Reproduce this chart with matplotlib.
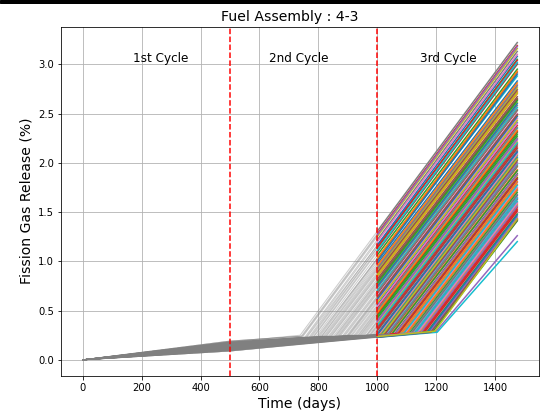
import matplotlib.pyplot as plt
import numpy as np
from matplotlib.patches import Rectangle

# day at which rapid release starts, per rod
onset_day = [812, 1046, 948, 1127, 761, 983, 1092, 874, 1158, 795,
             1011, 903, 1069, 742, 1175, 856, 967, 1103, 828, 1034,
             921, 1141, 776, 996, 1082, 889, 1163, 754, 1021, 937,
             1116, 845, 1057, 978, 1184, 803, 911, 1134, 867, 1003,
             768, 1087, 956, 1150, 821, 1040, 895, 1120, 748, 990,
             1075, 838, 1168, 929, 1028, 784, 1097, 962, 1145, 881,
             1015, 817, 1109, 944, 1179, 859, 1052, 738, 972, 1131,
             906, 1063, 790, 1155, 1200, 851, 1123, 934, 1008, 1203,
             808, 941, 1049, 1160, 745, 898, 1005, 1113, 842, 975,
             870, 1079, 1190, 772, 964, 1025, 1138, 825, 915, 1090,
             999, 1100, 863, 987, 1060, 1182, 758, 885, 1018, 1125,
             1171, 799, 952, 1072, 1148, 834, 925, 1037, 1195, 781]

# FGR (%) at onset
fgr_onset = [0.24, 0.26, 0.25, 0.27, 0.23, 0.25, 0.26, 0.24, 0.28, 0.23,
             0.26, 0.25, 0.27, 0.24, 0.28, 0.24, 0.25, 0.27, 0.24, 0.26,
             0.25, 0.28, 0.23, 0.25, 0.27, 0.24, 0.28, 0.23, 0.26, 0.25,
             0.27, 0.24, 0.26, 0.25, 0.29, 0.23, 0.25, 0.27, 0.24, 0.26,
             0.23, 0.27, 0.25, 0.28, 0.24, 0.26, 0.24, 0.27, 0.24, 0.25,
             0.27, 0.24, 0.28, 0.25, 0.26, 0.23, 0.27, 0.25, 0.28, 0.24,
             0.26, 0.24, 0.27, 0.25, 0.28, 0.24, 0.26, 0.25, 0.25, 0.27,
             0.25, 0.26, 0.23, 0.28, 0.29, 0.24, 0.27, 0.25, 0.26, 0.28,
             0.23, 0.25, 0.26, 0.28, 0.24, 0.24, 0.26, 0.27, 0.24, 0.25,
             0.24, 0.27, 0.29, 0.23, 0.25, 0.26, 0.28, 0.24, 0.25, 0.27,
             0.25, 0.27, 0.24, 0.25, 0.26, 0.28, 0.23, 0.24, 0.26, 0.27,
             0.28, 0.23, 0.25, 0.27, 0.28, 0.24, 0.25, 0.26, 0.29, 0.23]

# FGR (%) at end of 1st cycle
fgr_500 = [0.17, 0.12, 0.14, 0.11, 0.18, 0.13, 0.10, 0.15, 0.12, 0.16,
           0.13, 0.15, 0.11, 0.19, 0.10, 0.16, 0.13, 0.12, 0.17, 0.11,
           0.14, 0.09, 0.18, 0.14, 0.12, 0.15, 0.11, 0.17, 0.12, 0.16,
           0.10, 0.16, 0.13, 0.12, 0.09, 0.18, 0.14, 0.11, 0.15, 0.13,
           0.17, 0.11, 0.14, 0.10, 0.16, 0.12, 0.15, 0.12, 0.19, 0.13,
           0.12, 0.17, 0.10, 0.14, 0.13, 0.17, 0.11, 0.15, 0.11, 0.16,
           0.12, 0.18, 0.10, 0.13, 0.11, 0.15, 0.12, 0.18, 0.14, 0.12,
           0.14, 0.11, 0.17, 0.10, 0.09, 0.16, 0.11, 0.15, 0.13, 0.10,
           0.18, 0.15, 0.12, 0.10, 0.19, 0.15, 0.13, 0.11, 0.16, 0.14,
           0.16, 0.12, 0.10, 0.18, 0.14, 0.12, 0.11, 0.16, 0.15, 0.12,
           0.14, 0.11, 0.16, 0.13, 0.11, 0.09, 0.18, 0.15, 0.13, 0.10,
           0.09, 0.17, 0.14, 0.11, 0.10, 0.17, 0.15, 0.12, 0.10, 0.17]

# FGR (%) at end of 3rd cycle
fgr_end = [2.83, 1.93, 2.31, 1.63, 3.01, 2.17, 1.75, 2.58, 1.52, 2.88,
           2.07, 2.48, 1.85, 3.19, 1.45, 2.65, 2.23, 1.72, 2.76, 1.98,
           2.41, 1.58, 3.05, 2.12, 1.80, 2.53, 1.50, 3.13, 2.03, 2.35,
           1.67, 2.70, 1.89, 2.19, 1.42, 2.92, 2.45, 1.60, 2.61, 2.10,
           3.08, 1.78, 2.27, 1.55, 2.79, 1.96, 2.50, 1.65, 3.16, 2.14,
           1.83, 2.72, 1.48, 2.38, 2.00, 3.00, 1.74, 2.25, 1.57, 2.56,
           2.05, 2.81, 1.70, 2.32, 1.43, 2.64, 1.91, 3.22, 2.21, 1.61,
           2.47, 1.87, 2.95, 1.53, 1.26, 2.67, 1.64, 2.36, 2.08, 1.20,
           2.90, 2.33, 1.92, 1.51, 3.18, 2.49, 2.09, 1.68, 2.71, 2.20,
           2.60, 1.81, 1.41, 3.04, 2.24, 2.02, 1.59, 2.78, 2.43, 1.77,
           2.11, 1.73, 2.63, 2.15, 1.88, 1.42, 3.10, 2.54, 2.04, 1.64,
           1.47, 2.93, 2.29, 1.84, 1.56, 2.74, 2.40, 1.97, 1.43, 3.02]

end_day = 1475
cycle_ends = [500, 1000]
cycle_labels = ["1st Cycle", "2nd Cycle", "3rd Cycle"]
label_x = [172, 632, 1145]

fig, ax = plt.subplots(figsize=(540 / 72, 419 / 72), dpi=72)
fig.subplots_adjust(left=61 / 540, right=539 / 540,
                    bottom=1 - 375.7 / 419, top=1 - 26.7 / 419)
fig.patches.append(Rectangle((0, 1 - 3 / 419), 1, 3 / 419,
                             transform=fig.transFigure, color="black"))

# 1st + 2nd cycle in grey
for i in range(len(onset_day)):
    t = np.array([0, 500, onset_day[i], end_day], dtype=float)
    y = np.array([0, fgr_500[i], fgr_onset[i], fgr_end[i]])
    y_split = np.interp(1000, t, y)
    early = t < 1000
    ax.plot(np.append(t[early], 1000), np.append(y[early], y_split),
            color="grey", alpha=0.4, lw=1)

# 3rd cycle in colour
for i in range(len(onset_day)):
    t = np.array([0, 500, onset_day[i], end_day], dtype=float)
    y = np.array([0, fgr_500[i], fgr_onset[i], fgr_end[i]])
    y_split = np.interp(1000, t, y)
    late = t > 1000
    ax.plot(np.insert(t[late], 0, 1000), np.insert(y[late], 0, y_split), lw=1.5)

for d in cycle_ends:
    ax.axvline(d, color="red", ls="--", lw=1.5)

for x, lab in zip(label_x, cycle_labels):
    ax.text(x, 3.02, lab, fontsize=12)

ax.grid(True)
ax.set_xlabel("Time (days)", fontsize=14)
ax.set_ylabel("Fission Gas Release (%)", fontsize=14)
ax.set_title("Fuel Assembly : 4-3", fontsize=14, x=0.479)

plt.savefig("out.png", dpi=72)
